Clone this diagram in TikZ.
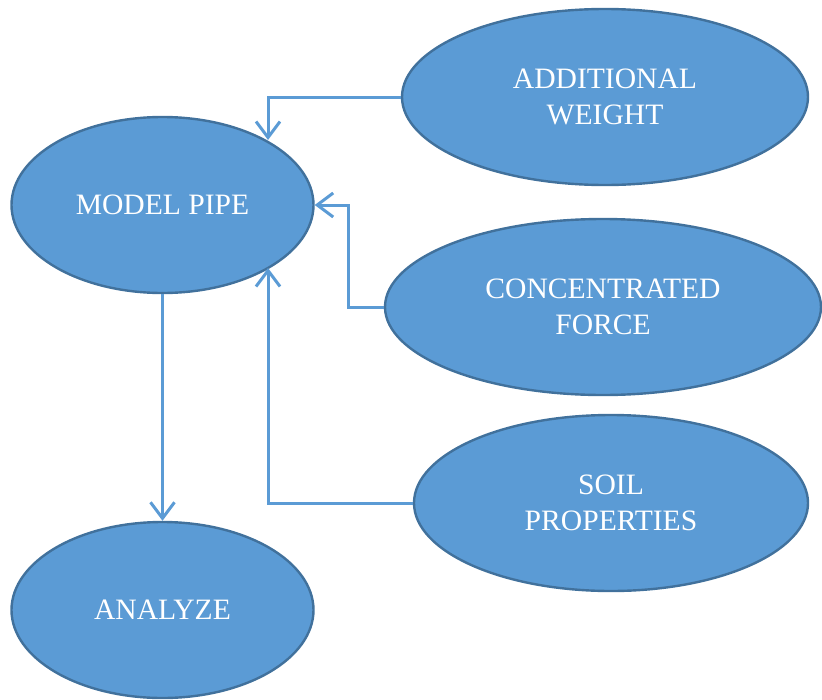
\documentclass[tikz,border=0pt]{standalone}
\usepackage{fontspec}
\setmainfont{Liberation Serif}
\usetikzlibrary{shapes.geometric,arrows.meta}
\definecolor{fillblue}{HTML}{5B9BD5}
\definecolor{edgeblue}{HTML}{41719C}
\begin{document}
\begin{tikzpicture}[x=1pt,y=-1pt,
  oval/.style={ellipse, draw=edgeblue, fill=fillblue, line width=2.4pt, inner sep=0pt,
    text=white, align=center, font=\fontsize{29.6}{35.5}\selectfont},
  link/.style={draw=fillblue, line width=3pt,
    -{Straight Barb[length=16pt,width=24pt,line width=3pt]}}]
\useasboundingbox (0,0) rectangle (822,699);
\node[oval, minimum width=302pt, minimum height=176pt] (mp) at (162.5,205) {MODEL PIPE};
\node[oval, minimum width=406pt, minimum height=176pt] (aw) at (605,97) {ADDITIONAL\\WEIGHT};
\node[oval, minimum width=436pt, minimum height=176pt] (cf) at (603,307) {CONCENTRATED\\FORCE};
\node[oval, minimum width=394pt, minimum height=176pt] (sp) at (611,503) {SOIL\\PROPERTIES};
\node[oval, minimum width=302pt, minimum height=176pt] (an) at (162.5,610) {ANALYZE};
\coordinate (awin) at (268,140);
\coordinate (spin) at (268,268);
\draw[link] (aw.west) -| (awin);
\draw[link] (cf.west) -- (348,307) |- (mp.east);
\draw[link] (sp.west) -| (spin);
\draw[link] (mp.south) -- (an.north);
\end{tikzpicture}
\end{document}
